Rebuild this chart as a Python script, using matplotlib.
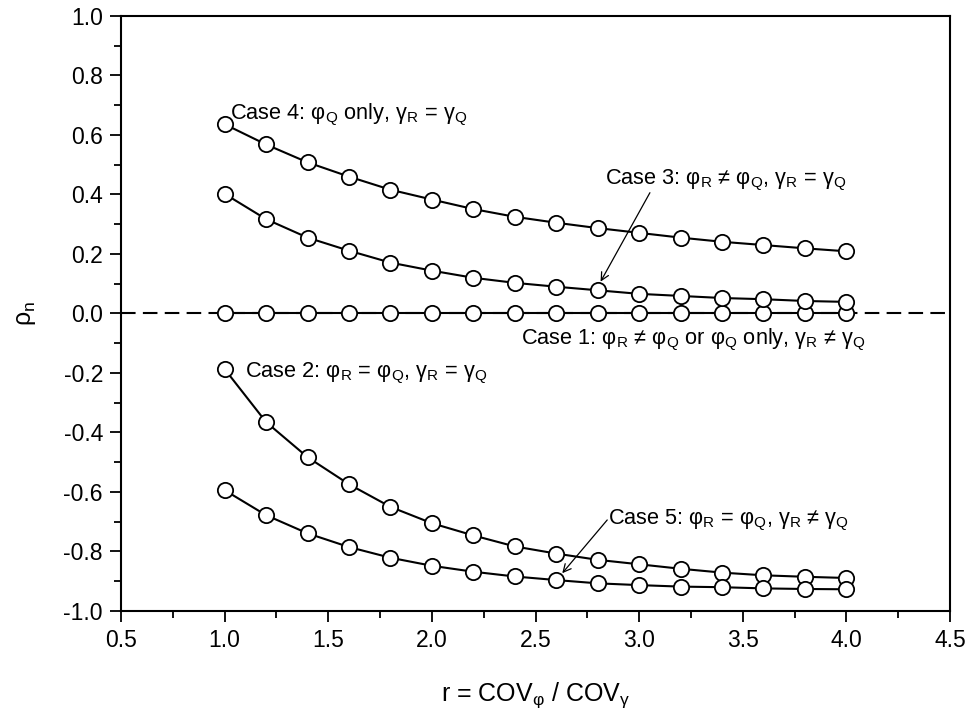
import numpy as np
import matplotlib
matplotlib.use("Agg")
import matplotlib.pyplot as plt
from matplotlib.ticker import MultipleLocator, FormatStrFormatter

plt.rcParams["font.family"] = ["Liberation Sans", "DejaVu Sans"]
plt.rcParams["mathtext.default"] = "regular"

# ratio of coefficients of variation
r = [1.0, 1.2, 1.4, 1.6, 1.8, 2.0, 2.2, 2.4, 2.6, 2.8, 3.0, 3.2, 3.4, 3.6, 3.8, 4.0]

case1 = [0.0] * 16
case2 = [-0.187, -0.365, -0.483, -0.574, -0.650, -0.705, -0.746, -0.783, -0.807,
         -0.828, -0.843, -0.858, -0.871, -0.880, -0.885, -0.889]
case3 = [0.402, 0.317, 0.255, 0.211, 0.171, 0.144, 0.120, 0.103, 0.090, 0.078,
         0.066, 0.059, 0.052, 0.048, 0.042, 0.039]
case4 = [0.636, 0.568, 0.508, 0.460, 0.416, 0.383, 0.351, 0.325, 0.305, 0.287,
         0.271, 0.255, 0.241, 0.230, 0.219, 0.209]
case5 = [-0.594, -0.678, -0.739, -0.785, -0.821, -0.848, -0.868, -0.884, -0.896,
         -0.907, -0.913, -0.918, -0.920, -0.924, -0.926, -0.927]

label1 = r"Case 1: $φ_R$ ≠ $φ_Q$ or $φ_Q$ only, $γ_R$ ≠ $γ_Q$"
label2 = r"Case 2: $φ_R$ = $φ_Q$, $γ_R$ = $γ_Q$"
label3 = r"Case 3: $φ_R$ ≠ $φ_Q$, $γ_R$ = $γ_Q$"
label4 = r"Case 4: $φ_Q$ only, $γ_R$ = $γ_Q$"
label5 = r"Case 5: $φ_R$ = $φ_Q$, $γ_R$ ≠ $γ_Q$"

fig = plt.figure(figsize=(9.69, 7.26), dpi=100)
ax = fig.add_axes([0.1249, 0.1584, 0.8555, 0.8196])

ax.axhline(0.0, color="black", lw=1.5, dashes=(7, 3.5), zorder=1)

style = dict(color="black", lw=1.5, marker="o", markersize=11,
             markerfacecolor="white", markeredgecolor="black",
             markeredgewidth=1.3, zorder=3)
for ys in (case1, case2, case3, case4, case5):
    ax.plot(r, ys, **style)

ax.set_xlim(0.5, 4.5)
ax.set_ylim(-1.0, 1.0)
ax.xaxis.set_major_locator(MultipleLocator(0.5))
ax.xaxis.set_minor_locator(MultipleLocator(0.25))
ax.yaxis.set_major_locator(MultipleLocator(0.2))
ax.yaxis.set_minor_locator(MultipleLocator(0.1))
ax.xaxis.set_major_formatter(FormatStrFormatter("%.1f"))
ax.yaxis.set_major_formatter(FormatStrFormatter("%.1f"))
ax.tick_params(which="both", direction="out", top=False, right=False,
               labelsize=16.5, width=1.3, colors="black")
ax.tick_params(which="major", length=8, pad=5)
ax.tick_params(which="minor", length=5)
for s in ax.spines.values():
    s.set_linewidth(1.5)

ax.set_xlabel(r"r = $COV_φ$ / $COV_γ$", fontsize=18, labelpad=20)
ax.set_ylabel(r"$ρ_n$", fontsize=18, labelpad=18)

fs = 15.7
ax.text(1.027, 0.667, label4, fontsize=fs, ha="left", va="center")
ax.text(1.099, -0.200, label2, fontsize=fs, ha="left", va="center")
ax.text(2.432, -0.089, label1, fontsize=fs, ha="left", va="center")
ax.text(2.833, 0.447, label3, fontsize=fs, ha="left", va="center")
ax.text(2.848, -0.694, label5, fontsize=fs, ha="left", va="center")

arrow = dict(arrowstyle="->", color="black", lw=0.9, shrinkA=0, shrinkB=0,
             mutation_scale=14)
ax.annotate("", xy=(2.814, 0.107), xytext=(3.052, 0.406), arrowprops=arrow)
ax.annotate("", xy=(2.629, -0.873), xytext=(2.846, -0.694), arrowprops=arrow)

fig.savefig("out.png", dpi=100)
